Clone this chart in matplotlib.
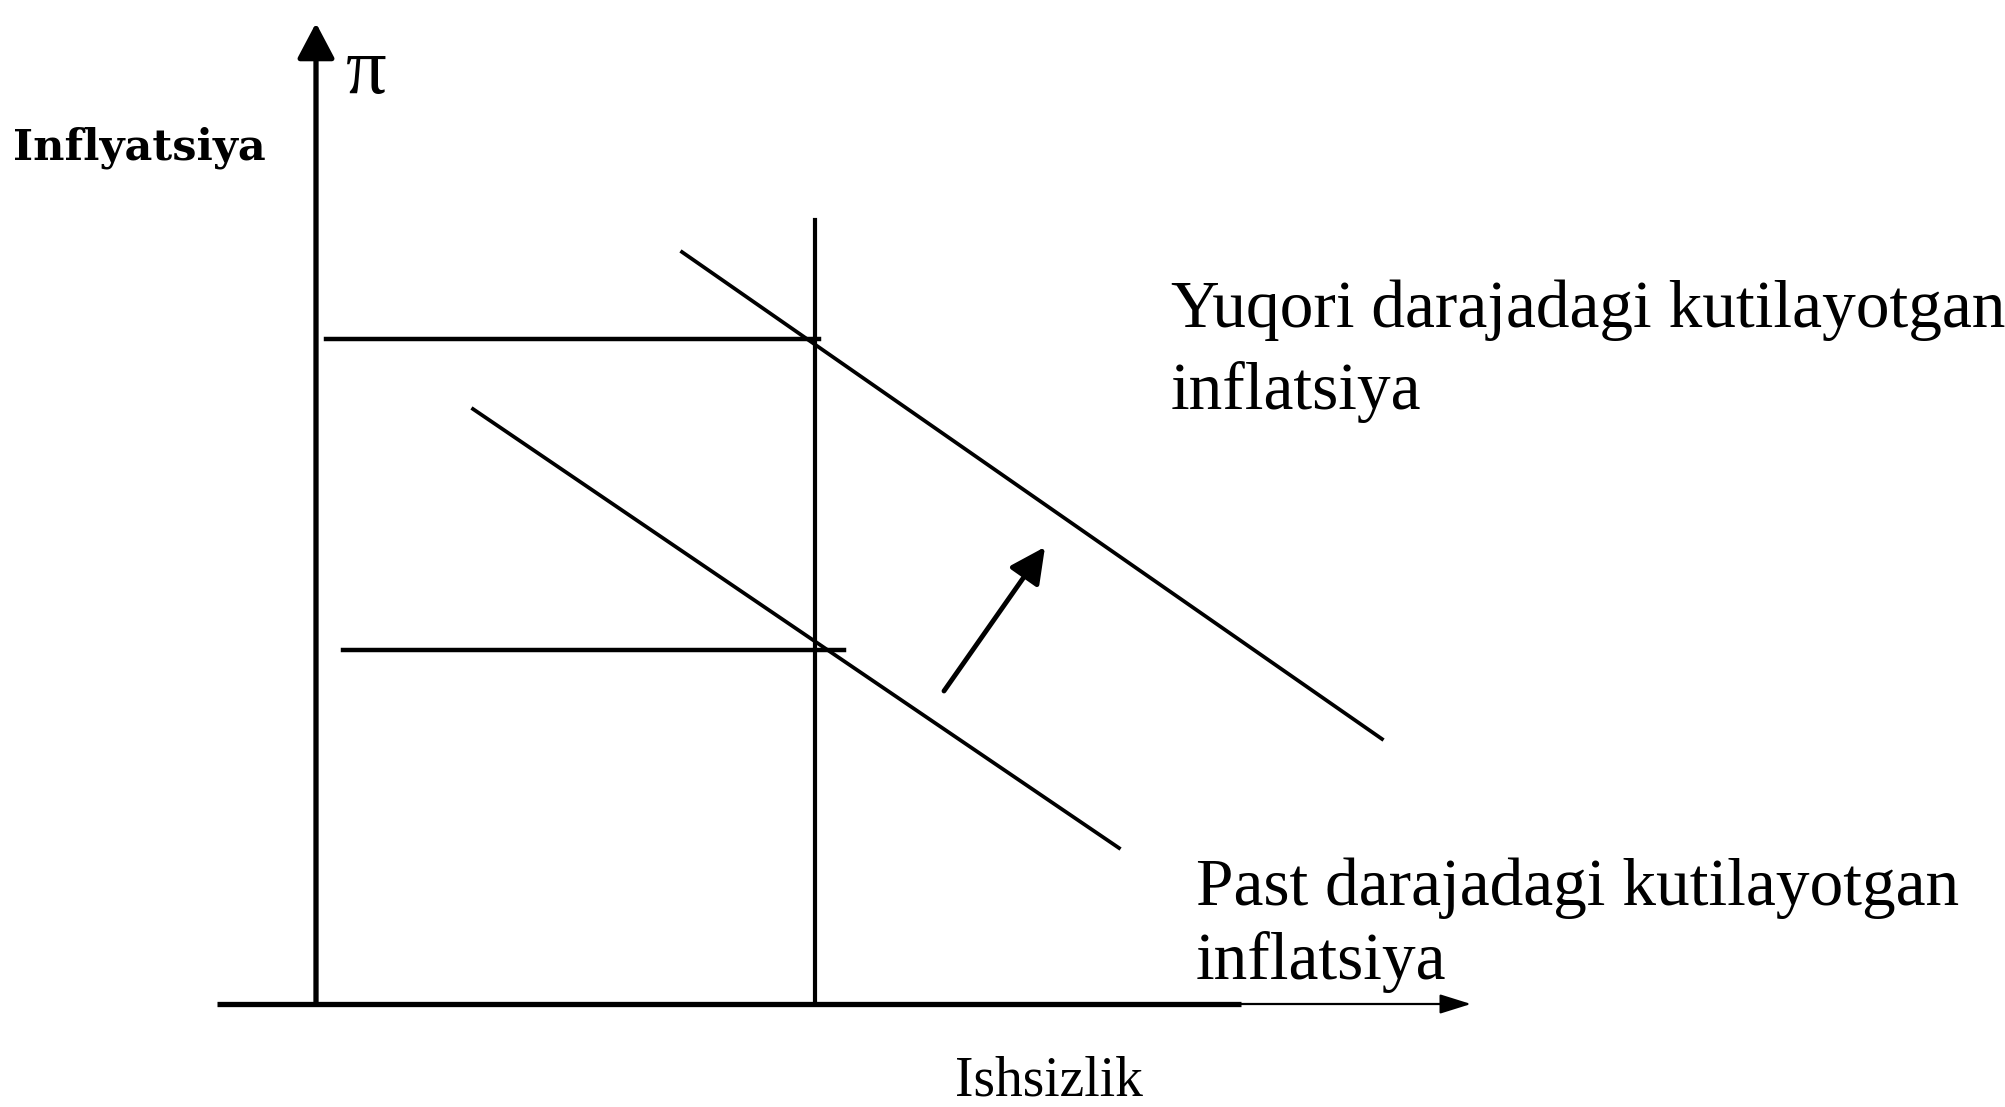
import matplotlib
matplotlib.use("Agg")
import matplotlib.pyplot as plt

# diagram coordinates: unemployment (u) across, inflation (pi) up, origin at axis crossing
u_axis = [-0.99, 9.25, 11.55]       # start, end of heavy stroke, arrow tip
pi_axis = [0.0, 9.81]               # bottom, arrow tip
u_natural = 4.99                    # vertical long-run line
u_natural_top = 7.84
pi_levels = [6.65, 3.54]            # high / low inflation
pi_level_start = [0.10, 0.27]
pi_level_end = [5.03, 5.28]

# short-run Phillips curves (u0, pi0, u1, pi1)
curve_high = [3.66, 7.52, 10.66, 2.65]
curve_low = [1.57, 5.95, 8.03, 1.56]
shift_arrow = [6.28, 3.13, 7.29, 4.57]

label_pi = "π"
label_y = "Inflyatsiya"
label_x = "Ishsizlik"
label_high = "Yuqori darajadagi kutilayotgan\ninflatsiya"
label_low = "Past darajadagi kutilayotgan\ninflatsiya"

fig = plt.figure(figsize=(20.06, 11.07), dpi=100)
ax = fig.add_axes([0, 0, 1, 1])
ax.set_xlim(-3.16, 16.90)
ax.set_ylim(-1.03, 10.04)
ax.axis("off")

serif = "Liberation Serif"

# axes
ax.annotate("", xy=(0, pi_axis[1]), xytext=(0, pi_axis[0]),
            arrowprops=dict(arrowstyle="-|>,head_length=1.8,head_width=0.95", mutation_scale=12,
                            lw=3.8, color="black", shrinkA=0, shrinkB=0))
ax.plot(u_axis[:2], [0, 0], color="black", lw=3.8, solid_capstyle="butt")
ax.annotate("", xy=(u_axis[2], 0), xytext=(u_axis[1], 0),
            arrowprops=dict(arrowstyle="-|>,head_length=1.6,head_width=0.5", mutation_scale=12,
                            lw=1.6, color="black", shrinkA=0, shrinkB=0))

# long-run vertical line and inflation levels
ax.plot([u_natural, u_natural], [0, u_natural_top], color="black", lw=3.0)
for lvl, s, e in zip(pi_levels, pi_level_start, pi_level_end):
    ax.plot([s, e], [lvl, lvl], color="black", lw=3.2)

# short-run curves
for c in (curve_high, curve_low):
    ax.plot([c[0], c[2]], [c[1], c[3]], color="black", lw=2.7)

ax.annotate("", xy=(shift_arrow[2], shift_arrow[3]), xytext=(shift_arrow[0], shift_arrow[1]),
            arrowprops=dict(arrowstyle="-|>,head_length=1.8,head_width=0.9", mutation_scale=12,
                            lw=3.5, color="black", shrinkA=0, shrinkB=0))

# labels
ax.text(0.30, 9.30, label_pi, fontsize=58, family=serif, va="center", ha="left")
ax.text(-3.03, 8.44, label_y, fontsize=31, family="DejaVu Serif", fontweight="bold",
        va="baseline", ha="left")
ax.text(7.33, -0.52, label_x, fontsize=40, family=serif, va="top", ha="center")
ax.text(8.55, 5.95, label_high, fontsize=48.5, family=serif, va="baseline", ha="left",
        linespacing=1.42)
ax.text(8.80, 0.25, label_low, fontsize=48.5, family=serif, va="baseline", ha="left",
        linespacing=1.25)

fig.savefig("out.png", dpi=100)
